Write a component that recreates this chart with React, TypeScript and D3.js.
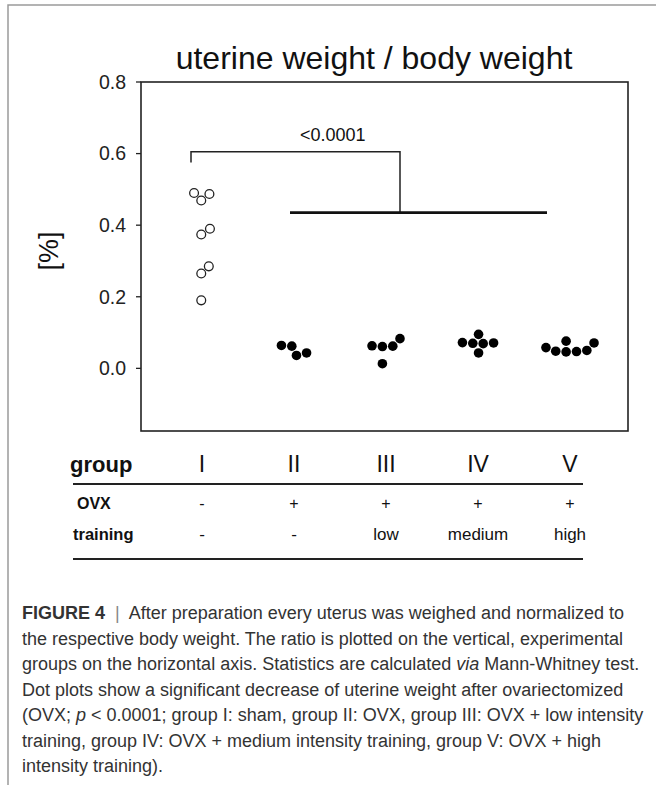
import React, { useMemo } from "react";
import * as d3 from "d3";

const W = 656;
const H = 785;
const PLOT = { left: 141, right: 628, top: 82, bottom: 431 };

const FONT = "'Liberation Sans', Arial, sans-serif";
const NARROW = "'Liberation Sans Narrow', 'Liberation Sans', Arial, sans-serif";

// categories and table rows
const groups = ["I", "II", "III", "IV", "V"];
const ovxRow = ["-", "+", "+", "+", "+"];
const trainingRow = ["-", "-", "low", "medium", "high"];

// uterine weight / body weight [%] per animal
const shamValues = [0.49, 0.469, 0.487, 0.374, 0.39, 0.265, 0.285, 0.19];
const ovxValues = [0.062, 0.036, 0.043, 0.064];
const lowValues = [0.061, 0.062, 0.063, 0.083, 0.013];
const mediumValues = [0.07, 0.069, 0.071, 0.072, 0.095, 0.043];
const highValues = [0.071, 0.048, 0.05, 0.046, 0.076, 0.047, 0.058];

const seriesByGroup = [shamValues, ovxValues, lowValues, mediumValues, highValues];

const yTicks = [0.0, 0.2, 0.4, 0.6, 0.8];
const Y_DOMAIN = [-0.175, 0.8];

// significance bracket
const pLabel = "<0.0001";
const bracketTop = 0.605;
const bracketFoot = 0.575;
const barLevel = 0.435;

const captionLines = [
  [{ t: "FIGURE 4", b: true }, { t: "  |  " }, { t: "After preparation every uterus was weighed and normalized to" }],
  [{ t: "the respective body weight. The ratio is plotted on the vertical, experimental" }],
  [{ t: "groups on the horizontal axis. Statistics are calculated " }, { t: "via", i: true }, { t: " Mann-Whitney test." }],
  [{ t: "Dot plots show a significant decrease of uterine weight after ovariectomized" }],
  [{ t: "(OVX; " }, { t: "p", i: true }, { t: " < 0.0001; group I: sham, group II: OVX, group III: OVX + low intensity" }],
  [{ t: "training, group IV: OVX + medium intensity training, group V: OVX + high" }],
  [{ t: "intensity training)." }],
];

const DOT_R = 4.8;
const SWARM_D = 10.4;

type Pt = { v: number; y: number; x: number };

// simple beeswarm: lowest values first, each dot goes as close to the centre as it can
function swarm(values: number[], y: d3.ScaleLinear<number, number>): Pt[] {
  const pts: Pt[] = values.map((v) => ({ v, y: y(v), x: 0 }));
  const order = [...pts].sort((a, b) => b.y - a.y);
  const placed: Pt[] = [];
  for (const p of order) {
    const iv = placed
      .filter((q) => Math.abs(q.y - p.y) < SWARM_D)
      .map((q) => {
        const dx = Math.sqrt(SWARM_D * SWARM_D - (q.y - p.y) ** 2);
        return [q.x - dx, q.x + dx];
      });
    const cands = [0, ...iv.flat()].sort((a, b) => Math.abs(a) - Math.abs(b) || b - a);
    p.x = cands.find((c) => iv.every(([a, b]) => c <= a + 1e-6 || c >= b - 1e-6)) ?? 0;
    placed.push(p);
  }
  const [lo, hi] = d3.extent(pts, (p) => p.x) as [number, number];
  const shift = (lo + hi) / 2;
  pts.forEach((p) => (p.x -= shift));
  return pts;
}

const App = () => {
  const y = useMemo(
    () => d3.scaleLinear().domain(Y_DOMAIN).range([PLOT.bottom, PLOT.top]),
    []
  );
  const x = useMemo(() => d3.scalePoint().domain(groups).range([202, 570]), []);

  const swarms = seriesByGroup.map((vals) => swarm(vals, y));

  const gx = (g: string) => x(g) as number;
  const tableLeft = 73;
  const tableRight = 583;

  return (
    <div style={{ position: "absolute", left: 0, top: 0 }}>
      <svg width={W} height={H} style={{ display: "block", background: "#fff" }}>
        {/* page frame */}
        <path d={`M8,${H} V5 H${W}`} fill="none" stroke="#9a9a9a" strokeWidth={1.5} />

        <text x={374} y={69} textAnchor="middle" fontFamily={FONT} fontSize={32} fill="#111">
          uterine weight / body weight
        </text>

        {/* plot frame */}
        <rect
          x={PLOT.left}
          y={PLOT.top}
          width={PLOT.right - PLOT.left}
          height={PLOT.bottom - PLOT.top}
          fill="none"
          stroke="#222"
          strokeWidth={1.6}
        />

        {yTicks.map((t) => (
          <g key={t}>
            <line x1={PLOT.left - 5} x2={PLOT.left} y1={y(t)} y2={y(t)} stroke="#222" strokeWidth={1.3} />
            <text
              x={PLOT.left - 15}
              y={y(t)}
              dy="0.35em"
              textAnchor="end"
              fontFamily={FONT}
              fontSize={19.5}
              fill="#222"
            >
              {d3.format(".1f")(t)}
            </text>
          </g>
        ))}

        <text
          transform={`translate(58,${(y(0.4) + y(0.3)) / 2 + 8}) rotate(-90)`}
          textAnchor="middle"
          fontFamily={FONT}
          fontSize={27}
          fill="#111"
        >
          [%]
        </text>

        {/* significance bracket */}
        <path
          d={`M${gx("I") - 11},${y(bracketFoot)} V${y(bracketTop)} H${gx("III") + 14} V${y(barLevel)}`}
          fill="none"
          stroke="#222"
          strokeWidth={1.5}
        />
        <line
          x1={gx("II") - 4}
          x2={gx("V") - 23}
          y1={y(barLevel)}
          y2={y(barLevel)}
          stroke="#111"
          strokeWidth={2.6}
        />
        <text x={gx("II") + 6} y={y(bracketTop) - 11} fontFamily={FONT} fontSize={18} fill="#111">
          {pLabel}
        </text>

        {/* dots */}
        {swarms.map((pts, gi) =>
          pts.map((p, i) => (
            <circle
              key={`${gi}-${i}`}
              cx={gx(groups[gi]) + p.x}
              cy={p.y}
              r={gi === 0 ? 4.4 : DOT_R}
              fill={gi === 0 ? "#fff" : "#000"}
              stroke={gi === 0 ? "#222" : "none"}
              strokeWidth={1.3}
            />
          ))
        )}

        {/* group table */}
        <text x={tableLeft - 3} y={472} fontFamily={FONT} fontWeight="bold" fontSize={22} fill="#111">
          group
        </text>
        {groups.map((g) => (
          <text key={g} x={gx(g)} y={472} textAnchor="middle" fontFamily={NARROW} fontSize={23} fill="#111">
            {g}
          </text>
        ))}
        <line x1={tableLeft} x2={tableRight} y1={484} y2={484} stroke="#222" strokeWidth={2} />

        <text x={tableLeft + 4} y={509} fontFamily={FONT} fontWeight="bold" fontSize={16} fill="#111">
          OVX
        </text>
        {ovxRow.map((s, i) => (
          <text key={i} x={gx(groups[i])} y={509} textAnchor="middle" fontFamily={FONT} fontSize={16} fill="#111">
            {s}
          </text>
        ))}

        <text x={tableLeft} y={540} fontFamily={FONT} fontWeight="bold" fontSize={16.5} fill="#111">
          training
        </text>
        {trainingRow.map((s, i) => (
          <text key={i} x={gx(groups[i])} y={540} textAnchor="middle" fontFamily={NARROW} fontSize={17} fill="#111">
            {s}
          </text>
        ))}
        <line x1={tableLeft} x2={tableRight} y1={559} y2={559} stroke="#222" strokeWidth={2} />

        {/* caption */}
        {captionLines.map((parts, li) => (
          <text key={li} x={22} y={619 + li * 25.5} fontFamily={FONT} fontSize={18} fill="#333">
            {parts.map((p: any, k) => (
              <tspan
                key={k}
                fontWeight={p.b ? "bold" : "normal"}
                fontStyle={p.i ? "italic" : "normal"}
                fill={p.t.trim() === "|" ? "#888" : undefined}
                style={{ whiteSpace: "pre" }}
              >
                {p.t}
              </tspan>
            ))}
          </text>
        ))}
      </svg>
    </div>
  );
};

export default App;
